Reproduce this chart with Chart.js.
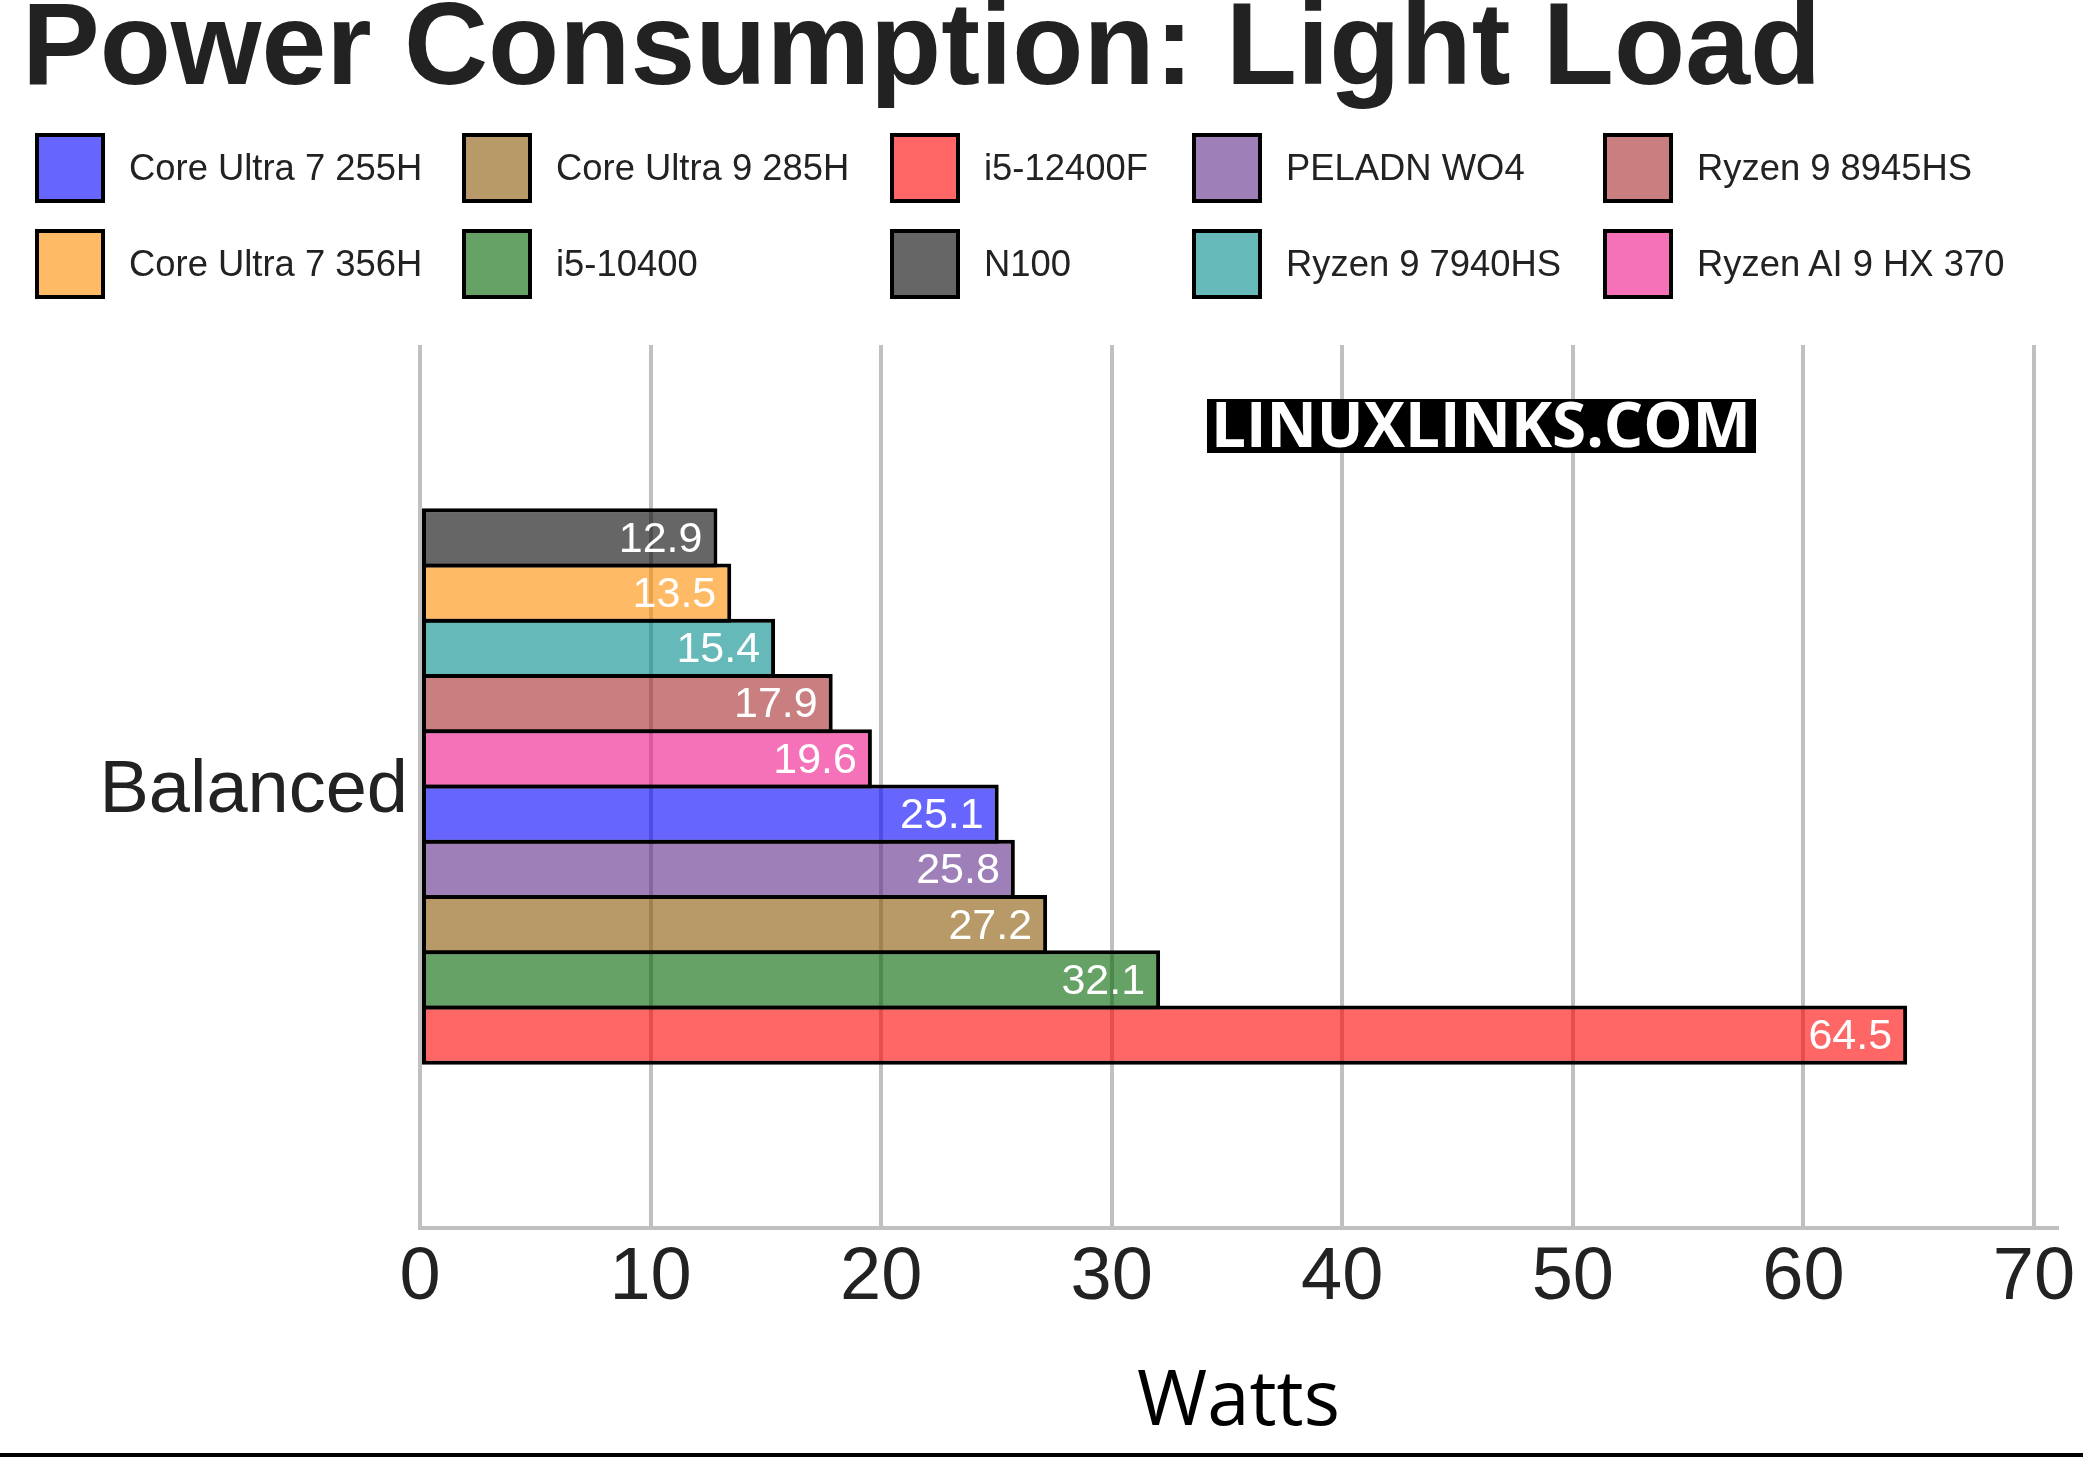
<!DOCTYPE html>
<html lang="en">
  <head>
    <meta charset="UTF-8" />
    <title>Power Consumption: Light Load</title>
    <script src="https://cdn.jsdelivr.net/npm/chart.js"></script>
    <style>
      body {
        margin: 0;
        background: #ffffff;
        font-family: "Liberation Sans", Arial, sans-serif;
      }
      .page {
        position: relative;
        width: 2083px;
        height: 1457px;
        overflow: hidden;
      }
      .title {
        position: absolute;
        left: 22px;
        top: -14px;
        font-size: 116.5px;
        line-height: 116px;
        font-weight: bold;
        color: #222222;
        white-space: nowrap;
      }
      .legend-item {
        position: absolute;
        height: 70px;
        display: flex;
        align-items: center;
        font-size: 36.4px;
        color: #222222;
        white-space: nowrap;
      }
      .legend-item .swatch {
        width: 70px;
        height: 70px;
        box-sizing: border-box;
        border: 4px solid #000000;
        margin-right: 24px;
      }
      canvas {
        position: absolute;
        left: 0;
        top: 0;
      }
      .bottom-rule {
        position: absolute;
        left: 0;
        top: 1453px;
        width: 2083px;
        height: 4px;
        background: #000000;
      }
    </style>
  </head>

  <body>
    <div class="page">
      <canvas id="chart" width="2083" height="1457"></canvas>
      <div class="title">Power Consumption: Light Load</div>
      <div id="legend"></div>
      <div class="bottom-rule"></div>
    </div>

    <script>
      // data, top bar first
      const categories = ["Balanced"];
      const processors = [
        "N100",
        "Core Ultra 7 356H",
        "Ryzen 9 7940HS",
        "Ryzen 9 8945HS",
        "Ryzen AI 9 HX 370",
        "Core Ultra 7 255H",
        "PELADN WO4",
        "Core Ultra 9 285H",
        "i5-10400",
        "i5-12400F",
      ];
      const watts = [12.9, 13.5, 15.4, 17.9, 19.6, 25.1, 25.8, 27.2, 32.1, 64.5];
      const barColors = [
        "rgba(0, 0, 0, 0.6)",
        "rgba(255, 140, 0, 0.6)",
        "rgba(0, 139, 139, 0.6)",
        "rgba(165, 42, 42, 0.6)",
        "rgba(238, 18, 137, 0.6)",
        "rgba(0, 0, 255, 0.6)",
        "rgba(93, 42, 137, 0.6)",
        "rgba(137, 87, 3, 0.6)",
        "rgba(0, 100, 0, 0.6)",
        "rgba(255, 0, 0, 0.6)",
      ];
      const xTicks = [0, 10, 20, 30, 40, 50, 60, 70];
      const xMax = 71;

      // legend, filled column by column
      const legendOrder = [
        "Core Ultra 7 255H",
        "Core Ultra 7 356H",
        "Core Ultra 9 285H",
        "i5-10400",
        "i5-12400F",
        "N100",
        "PELADN WO4",
        "Ryzen 9 7940HS",
        "Ryzen 9 8945HS",
        "Ryzen AI 9 HX 370",
      ];
      const legendCols = [35, 462, 890, 1192, 1603];
      const legendRows = [133, 229];

      const legendBox = document.getElementById("legend");
      legendOrder.forEach((name, i) => {
        const item = document.createElement("div");
        item.className = "legend-item";
        item.style.left = legendCols[Math.floor(i / 2)] + "px";
        item.style.top = legendRows[i % 2] + "px";
        const sw = document.createElement("div");
        sw.className = "swatch";
        sw.style.background = barColors[processors.indexOf(name)];
        item.appendChild(sw);
        item.appendChild(document.createTextNode(name));
        legendBox.appendChild(item);
      });

      // white value text at the end of every bar
      const valueLabels = {
        id: "valueLabels",
        afterDatasetsDraw(chart) {
          const ctx = chart.ctx;
          ctx.save();
          ctx.font = "43px 'Liberation Sans', Arial, sans-serif";
          ctx.fillStyle = "#ffffff";
          ctx.textAlign = "right";
          ctx.textBaseline = "middle";
          chart.data.datasets.forEach((ds, i) => {
            chart.getDatasetMeta(i).data.forEach((bar, j) => {
              ctx.fillText(ds.data[j].toFixed(1), bar.x - 15, bar.y + 2);
            });
          });
          ctx.restore();
        },
      };

      // site watermark
      const watermark = {
        id: "watermark",
        afterDraw(chart) {
          const ctx = chart.ctx;
          ctx.save();
          ctx.fillStyle = "#000000";
          ctx.fillRect(1207, 399, 549, 54);
          ctx.font = "bold 63px 'Open Sans', sans-serif";
          ctx.fillStyle = "#ffffff";
          ctx.textAlign = "left";
          ctx.textBaseline = "alphabetic";
          ctx.fillText("LINUXLINKS.COM", 1211, 447, 540);
          ctx.restore();
        },
      };

      Chart.defaults.font.family = "'Liberation Sans', Arial, sans-serif";
      Chart.defaults.color = "#222222";

      const ctx = document.getElementById("chart").getContext("2d");
      new Chart(ctx, {
        type: "bar",
        data: {
          labels: categories,
          datasets: processors.map((name, i) => ({
            label: name,
            data: [watts[i]],
            backgroundColor: barColors[i],
            borderColor: "#000000",
            borderWidth: 4,
            borderSkipped: false,
            categoryPercentage: 0.626,
            barPercentage: 1.072,
          })),
        },
        options: {
          indexAxis: "y",
          responsive: false,
          animation: false,
          devicePixelRatio: 1,
          layout: { padding: { top: 345, right: 26, bottom: 0, left: 0 } },
          plugins: {
            legend: { display: false },
            title: { display: false },
            tooltip: { enabled: false },
          },
          scales: {
            x: {
              type: "linear",
              min: 0,
              max: xMax,
              afterBuildTicks: (scale) => {
                scale.ticks = xTicks.map((v) => ({ value: v }));
              },
              afterFit: (scale) => {
                scale.height = 229;
              },
              grid: { color: "#c0c0c0", lineWidth: 4, drawTicks: false },
              border: { display: true, color: "#c0c0c0", width: 4 },
              ticks: {
                font: { size: 74 },
                color: "#222222",
                padding: 6,
                maxRotation: 0,
              },
              title: {
                display: true,
                text: "Watts",
                font: { family: "'Open Sans', sans-serif", size: 76 },
                color: "#000000",
                padding: { top: 0, bottom: 8 },
              },
            },
            y: {
              type: "category",
              afterFit: (scale) => {
                scale.width = 420;
              },
              grid: { display: false },
              border: { display: false },
              ticks: {
                font: { size: 74 },
                color: "#222222",
                padding: 4,
                labelOffset: 5,
              },
            },
          },
        },
        plugins: [valueLabels, watermark],
      });
    </script>
  </body>
</html>
